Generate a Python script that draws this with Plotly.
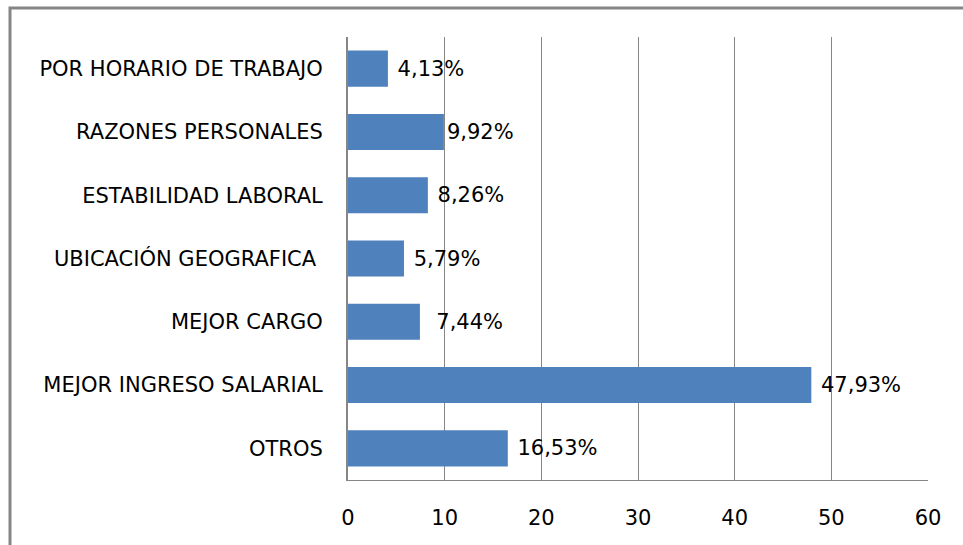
import plotly.graph_objects as go

categories = ["OTROS", "MEJOR INGRESO SALARIAL", "MEJOR CARGO",
              "UBICACIÓN GEOGRAFICA\u00a0", "ESTABILIDAD LABORAL",
              "RAZONES PERSONALES", "POR HORARIO DE TRABAJO"]
values = [16.53, 47.93, 7.44, 5.79, 8.26, 9.92, 4.13]
labels = ["\u00a016,53%", "\u00a047,93%", "\u00a0\u00a07,44%", "\u00a05,79%",
          "\u00a08,26%", "9,92%", "\u00a04,13%"]
x_ticks = [0, 10, 20, 30, 40, 50, 60]

W, H = 963, 545
L, R, T, B = 348, 35, 37, 65
pw, ph = W - L - R, H - T - B

FONT = "DejaVu Sans, sans-serif"
FS = 21

fig = go.Figure(go.Bar(
    y=categories, x=values, orientation="h",
    marker=dict(color="#4F81BD", line=dict(width=0)),
    text=labels, textposition="outside", cliponaxis=False,
    textfont=dict(family=FONT, size=FS, color="#000000"),
    width=0.57,
))

def px_x(p):
    return (p - L) / pw

def px_y(p):
    return 1 - (p - T) / ph

fig.update_layout(
    width=W, height=H,
    margin=dict(l=L, r=R, t=T, b=B),
    paper_bgcolor="white", plot_bgcolor="white",
    showlegend=False,
    font=dict(family=FONT, size=FS, color="#000000"),
    xaxis=dict(range=[0, 60], tickvals=x_ticks, showgrid=True,
               gridcolor="#868686", gridwidth=1, zeroline=False,
               showline=True, linecolor="#868686", linewidth=1,
               ticks="", ticklabelstandoff=19,
               tickfont=dict(family=FONT, size=FS, color="#000000")),
    yaxis=dict(showgrid=False, zeroline=False, showline=True,
               linecolor="#868686", linewidth=2, ticks="",
               ticklabelstandoff=19, range=[-0.5, 6.5],
               tickfont=dict(family=FONT, size=FS, color="#000000")),
    shapes=[dict(type="rect", xref="paper", yref="paper",
                 x0=px_x(10), x1=px_x(W + 10), y0=px_y(H + 10), y1=px_y(8),
                 line=dict(color="#868686", width=3), fillcolor="rgba(0,0,0,0)",
                 layer="below")],
)

fig.write_html("out.html", config={"displayModeBar": False},
               post_script="document.body.style.margin='0';document.body.style.padding='0';")
